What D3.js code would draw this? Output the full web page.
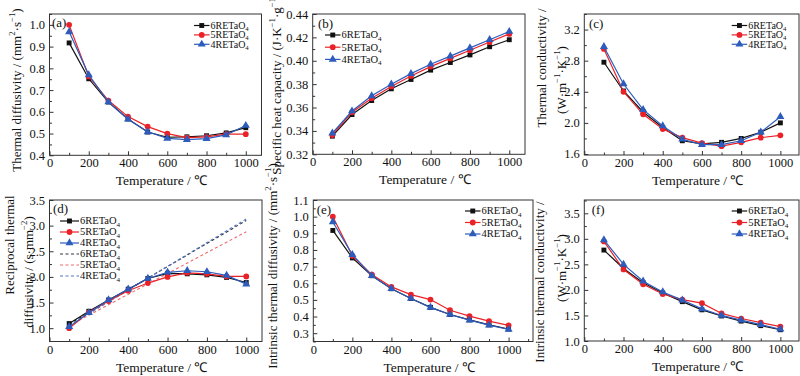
<!DOCTYPE html>
<html>
<head>
<meta charset="utf-8">
<script src="https://cdn.jsdelivr.net/npm/d3@7"></script>
<style>
  body { margin: 0; background: #fff; }
  svg { display: block; font-family: "Liberation Serif", "Times New Roman", serif; }
</style>
</head>
<body>
<script>
// temperatures (℃)
var temps = [100, 200, 300, 400, 500, 600, 700, 800, 900, 1000];

// (a) thermal diffusivity, mm2/s
var diff6 = [0.917, 0.752, 0.645, 0.567, 0.507, 0.483, 0.485, 0.490, 0.503, 0.527];
var diff5 = [1.000, 0.763, 0.652, 0.578, 0.532, 0.500, 0.481, 0.485, 0.497, 0.497];
var diff4 = [0.968, 0.770, 0.645, 0.566, 0.508, 0.478, 0.472, 0.477, 0.494, 0.537];

// (b) specific heat capacity, J/(K g)
var cp6 = [0.3355, 0.354, 0.366, 0.376, 0.384, 0.392, 0.3985, 0.405, 0.412, 0.418];
var cp5 = [0.3365, 0.356, 0.368, 0.378, 0.387, 0.395, 0.402, 0.409, 0.416, 0.423];
var cp4 = [0.338, 0.357, 0.370, 0.380, 0.389, 0.397, 0.404, 0.411, 0.418, 0.425];

// (c) thermal conductivity, W/(m K)
var k6 = [2.78, 2.41, 2.14, 1.94, 1.77, 1.73, 1.75, 1.80, 1.88, 2.00];
var k5 = [2.95, 2.40, 2.11, 1.92, 1.81, 1.74, 1.70, 1.75, 1.81, 1.84];
var k4 = [2.98, 2.50, 2.17, 1.96, 1.79, 1.72, 1.72, 1.77, 1.88, 2.08];

// (d) reciprocal thermal diffusivity, s/mm2, and the linear fits
var recip6 = [1.09, 1.33, 1.55, 1.76, 1.97, 2.07, 2.06, 2.04, 1.99, 1.89];
var recip5 = [1.00, 1.31, 1.53, 1.73, 1.88, 2.00, 2.08, 2.06, 2.01, 2.01];
var recip4 = [1.03, 1.30, 1.55, 1.76, 1.97, 2.09, 2.12, 2.10, 2.03, 1.86];
var fitTemps = [100, 1000];
var fit6 = [1.08, 3.10];
var fit5 = [1.05, 2.88];
var fit4 = [1.05, 3.13];

// (e) intrinsic thermal diffusivity, mm2/s
var intDiff6 = [0.917, 0.752, 0.645, 0.567, 0.508, 0.455, 0.412, 0.380, 0.350, 0.325];
var intDiff5 = [1.000, 0.765, 0.652, 0.578, 0.532, 0.502, 0.438, 0.402, 0.372, 0.347];
var intDiff4 = [0.968, 0.772, 0.645, 0.567, 0.508, 0.455, 0.412, 0.378, 0.348, 0.322];

// (f) intrinsic thermal conductivity, W/(m K)
var intK6 = [2.78, 2.42, 2.14, 1.94, 1.77, 1.61, 1.49, 1.39, 1.30, 1.22];
var intK5 = [2.95, 2.40, 2.11, 1.92, 1.81, 1.74, 1.54, 1.44, 1.36, 1.28];
var intK4 = [2.98, 2.50, 2.17, 1.96, 1.80, 1.63, 1.50, 1.41, 1.32, 1.23];

// tick labels
var xTicks = [0, 200, 400, 600, 800, 1000];
var yTicksA = [0.4, 0.5, 0.6, 0.7, 0.8, 0.9, 1.0];
var yTicksB = [0.32, 0.34, 0.36, 0.38, 0.40, 0.42, 0.44];
var yTicksC = [1.6, 2.0, 2.4, 2.8, 3.2];
var yTicksD = [1.0, 1.5, 2.0, 2.5, 3.0, 3.5];
var yTicksE = [0.3, 0.4, 0.5, 0.6, 0.7, 0.8, 0.9, 1.0, 1.1];
var yTicksF = [1.0, 1.5, 2.0, 2.5, 3.0, 3.5];

var seriesNames = ["6RETaO", "5RETaO", "4RETaO"];
var colors = ["#111111", "#ea2228", "#2d5cbc"];
var fitColors = ["#333340", "#f06a6a", "#5577c4"];
var shapes = [d3.symbolSquare, d3.symbolCircle, d3.symbolTriangle];
var shapeSizes = [24, 26, 28];

var width = 800, height = 376;

var svg = d3.select("body").append("svg")
    .attr("width", width)
    .attr("height", height);

svg.append("rect").attr("width", width).attr("height", height).attr("fill", "#fff");

// text with super/subscripts: parts = [text | [text, "sup"|"sub"], ...]
function richText(sel, parts, fs) {
  var back = 0;
  parts.forEach(function(p) {
    if (typeof p === "string") p = [p, null];
    var shift = p[1] === "sup" ? -0.4 * fs : p[1] === "sub" ? 0.22 * fs : 0;
    var ts = sel.append("tspan").text(p[0]);
    if (shift + back !== 0) ts.attr("dy", shift + back);
    if (p[1]) ts.attr("font-size", fs * 0.68);
    back = -shift;
  });
}

var sup = function(t) { return [t, "sup"]; };

var panels = [
  {tag: "(a)", left: 49.5, right: 261.5, top: 14, bottom: 155.3, xMax: 1080, yDomain: [0.4, 1.05],
   yTicks: yTicksA, yMinorStep: 0.05, fmt: ".1f", data: [diff6, diff5, diff4],
   yLabel: [["Thermal diffusivity / (mm", sup("2"), "\u00b7s", sup("\u22121"), ")"]],
   yLabelX: [16], yLabelY: [90],
   legend: {x: 194, y: 25.5, dy: 9.4, fs: 10}, tagPos: [52, 26.5]},
  {tag: "(b)", left: 312.7, right: 525, top: 14, bottom: 154.3, xMax: 1080, yDomain: [0.32, 0.44],
   yTicks: yTicksB, yMinorStep: 0.01, fmt: ".2f", data: [cp6, cp5, cp4],
   yLabel: [["Specific heat capacity / (J\u00b7K", sup("\u22121"), "\u00b7g", sup("\u22121"), ")"]],
   yLabelX: [276], yLabelY: [84],
   legend: {x: 325, y: 35, dy: 12.2, fs: 10.5}, tagPos: [318, 28]},
  {tag: "(c)", left: 584.3, right: 799, top: 14, bottom: 155, xMax: 1095, yDomain: [1.587, 3.4],
   yTicks: yTicksC, yMinorStep: 0.2, fmt: ".1f", data: [k6, k5, k4],
   yLabel: [["Thermal conductivity /"], ["(W\u00b7m", sup("\u22121"), "\u00b7K", sup("\u22121"), ")"]],
   yLabelX: [541, 561], yLabelY: [68, 80],
   legend: {x: 731.7, y: 25.5, dy: 9.4, fs: 10}, tagPos: [589, 28]},
  {tag: "(d)", left: 49.5, right: 262, top: 200, bottom: 341.5, xMax: 1080, yDomain: [0.74, 3.5],
   yTicks: yTicksD, yMinorStep: 0.25, fmt: ".1f", data: [recip6, recip5, recip4],
   fits: [fit6, fit5, fit4],
   yLabel: [["Reciprocal thermal"], ["diffusivity / (s\u00b7mm", sup("\u22122"), ")"]],
   yLabelX: [9, 28], yLabelY: [245, 272],
   legend: {x: 60, y: 221, dy: 11, fs: 10.5}, tagPos: [53, 213]},
  {tag: "(e)", left: 313.3, right: 533, top: 200, bottom: 341.5, xMax: 1125, yDomain: [0.25, 1.1],
   yTicks: yTicksE, yMinorStep: 0.05, fmt: ".1f", data: [intDiff6, intDiff5, intDiff4],
   yLabel: [["Intrinsic thermal diffusivity / (mm", sup("2"), "\u00b7s", sup("\u22121"), ")"]],
   yLabelX: [272], yLabelY: [266],
   legend: {x: 465, y: 211, dy: 11.5, fs: 10.5}, tagPos: [316.7, 213.5]},
  {tag: "(f)", left: 584.3, right: 799, top: 200, bottom: 341, xMax: 1095, yDomain: [1.0, 3.76],
   yTicks: yTicksF, yMinorStep: 0.25, fmt: ".1f", data: [intK6, intK5, intK4],
   yLabel: [["Intrinsic thermal conductivity /"], ["(W\u00b7m", sup("\u22121"), "\u00b7K", sup("\u22121"), ")"]],
   yLabelX: [539, 561], yLabelY: [282, 268],
   legend: {x: 731.7, y: 211, dy: 11.5, fs: 10.5}, tagPos: [591.7, 213.5]}
];

panels.forEach(drawPanel);

function drawPanel(p) {
  var g = svg.append("g");
  var x = d3.scaleLinear().domain([0, p.xMax]).range([p.left, p.right]);
  var y = d3.scaleLinear().domain(p.yDomain).range([p.bottom, p.top]);

  var xMinor = d3.range(100, p.xMax, 200);
  var yMinor = d3.range(p.yTicks[0] - p.yMinorStep, p.yDomain[1] + 1e-9, 2 * p.yMinorStep)
    .filter(function(v) { return v >= p.yDomain[0] - 1e-9; });

  // major and minor ticks, pointing inward
  var xa = g.append("g").attr("transform", "translate(0," + p.bottom + ")")
    .call(d3.axisBottom(x).tickValues(xTicks).tickSize(-4).tickPadding(3.2).tickFormat(d3.format("d")));
  var xm = g.append("g").attr("transform", "translate(0," + p.bottom + ")")
    .call(d3.axisBottom(x).tickValues(xMinor).tickSize(-2.5).tickFormat(""));
  var ya = g.append("g").attr("transform", "translate(" + p.left + ",0)")
    .call(d3.axisLeft(y).tickValues(p.yTicks).tickSize(-4).tickPadding(4.5).tickFormat(d3.format(p.fmt)));
  var ym = g.append("g").attr("transform", "translate(" + p.left + ",0)")
    .call(d3.axisLeft(y).tickValues(yMinor).tickSize(-2.5).tickFormat(""));

  [xa, xm, ya, ym].forEach(function(a) {
    a.attr("font-family", null).attr("font-size", null);
    a.select(".domain").remove();
    a.selectAll("line").attr("stroke", "#333");
    a.selectAll("text").attr("font-size", 12.5).attr("fill", "#111");
  });
  xm.selectAll("text").remove();
  ym.selectAll("text").remove();

  // frame
  g.append("rect")
    .attr("x", p.left).attr("y", p.top)
    .attr("width", p.right - p.left).attr("height", p.bottom - p.top)
    .attr("fill", "none").attr("stroke", "#333").attr("stroke-width", 1);

  var line = d3.line()
    .x(function(d) { return x(d[0]); })
    .y(function(d) { return y(d[1]); });

  // dashed linear fits (panel d)
  if (p.fits) {
    p.fits.forEach(function(f, i) {
      g.append("path")
        .datum(fitTemps.map(function(t, j) { return [t, f[j]]; }))
        .attr("fill", "none")
        .attr("stroke", fitColors[i])
        .attr("stroke-width", 1.1)
        .attr("stroke-dasharray", "3,2.5")
        .attr("d", line);
    });
  }

  p.data.forEach(function(vals, i) {
    var pts = temps.map(function(t, j) { return [t, vals[j]]; });
    g.append("path").datum(pts)
      .attr("fill", "none").attr("stroke", colors[i]).attr("stroke-width", 1.2)
      .attr("d", line);
    g.selectAll(null).data(pts).enter().append("path")
      .attr("transform", function(d) { return "translate(" + x(d[0]) + "," + y(d[1]) + ")"; })
      .attr("d", d3.symbol().type(shapes[i]).size(shapeSizes[i]))
      .attr("fill", colors[i]);
  });

  // legend
  var lg = g.append("g");
  var entries = seriesNames.map(function(n, i) { return {name: n, i: i, dashed: false}; });
  if (p.fits) entries = entries.concat(seriesNames.map(function(n, i) { return {name: n, i: i, dashed: true}; }));
  entries.forEach(function(e, k) {
    var yy = p.legend.y + k * p.legend.dy;
    var len = p.fits ? 19 : 15.5;
    lg.append("line")
      .attr("x1", p.legend.x).attr("x2", p.legend.x + len)
      .attr("y1", yy).attr("y2", yy)
      .attr("stroke", e.dashed ? fitColors[e.i] : colors[e.i])
      .attr("stroke-width", 1.2)
      .attr("stroke-dasharray", e.dashed ? "3,2.5" : null);
    if (!e.dashed) {
      lg.append("path")
        .attr("transform", "translate(" + (p.legend.x + len / 2) + "," + yy + ")")
        .attr("d", d3.symbol().type(shapes[e.i]).size(shapeSizes[e.i]))
        .attr("fill", colors[e.i]);
    }
    var t = lg.append("text")
      .attr("x", p.legend.x + len + 1).attr("y", yy + 3.3)
      .attr("font-size", p.legend.fs).attr("fill", "#111");
    richText(t, [e.name, ["4", "sub"]], p.legend.fs);
  });

  // panel tag
  g.append("text")
    .attr("x", p.tagPos[0]).attr("y", p.tagPos[1])
    .attr("font-size", 13).attr("fill", "#111")
    .text(p.tag);

  // axis titles
  g.append("text")
    .attr("x", (p.left + p.right) / 2 + 6).attr("y", p.bottom + 30)
    .attr("text-anchor", "middle").attr("font-size", 13.5).attr("fill", "#111")
    .text("Temperature / \u2103");

  p.yLabel.forEach(function(parts, li) {
    var t = g.append("text")
      .attr("transform", "translate(" + p.yLabelX[li] + "," + p.yLabelY[li] + ") rotate(-90)")
      .attr("text-anchor", "middle").attr("dy", "0.35em")
      .attr("font-size", 13).attr("fill", "#111");
    richText(t, parts, 13);
  });
}
</script>
</body>
</html>
